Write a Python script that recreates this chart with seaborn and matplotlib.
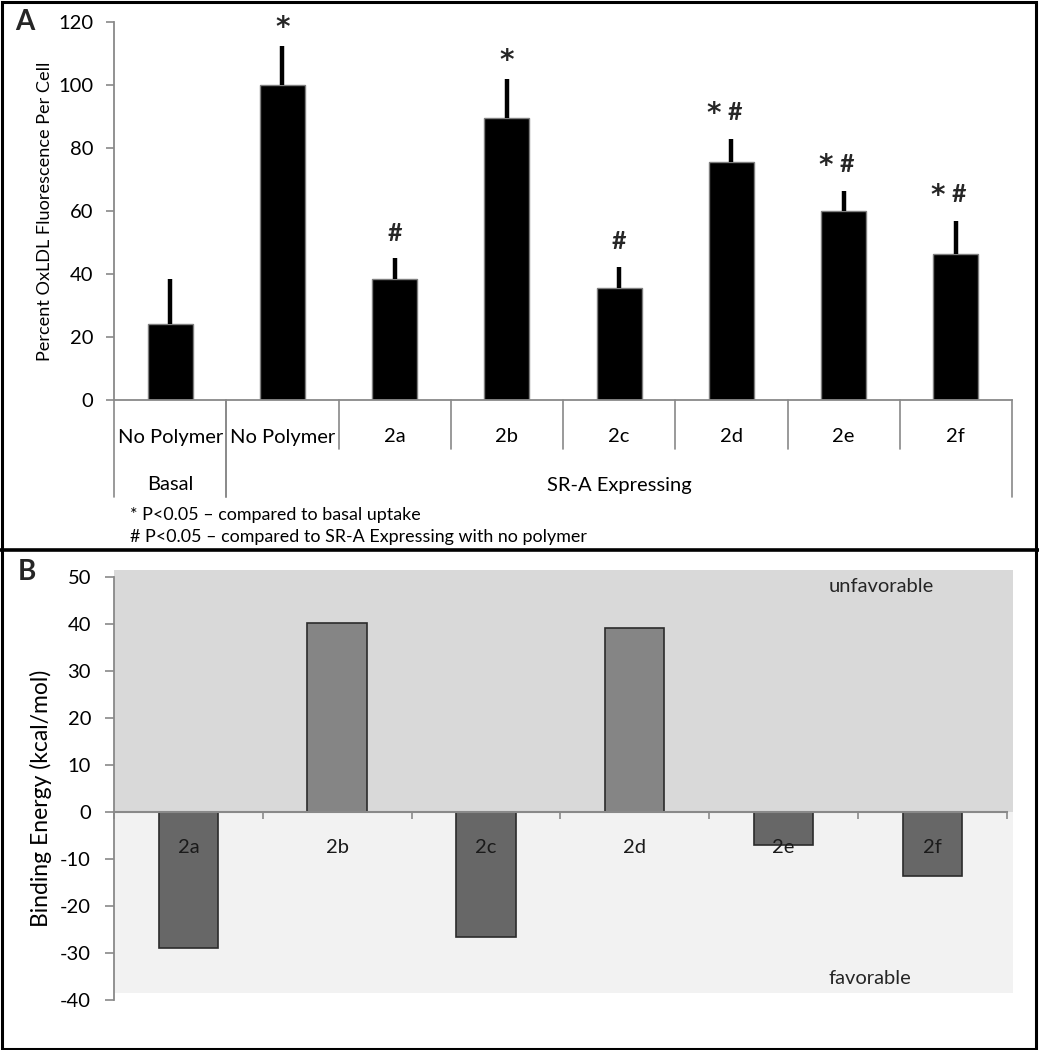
import matplotlib
matplotlib.use("Agg")
import matplotlib.pyplot as plt
import matplotlib.transforms as mtransforms
from matplotlib.lines import Line2D
from matplotlib.patches import Rectangle
import numpy as np
import pandas as pd
import seaborn as sns

# ---------------- data ----------------
a_groups = ["Basal", "SR-A Expressing", "SR-A Expressing", "SR-A Expressing",
            "SR-A Expressing", "SR-A Expressing", "SR-A Expressing", "SR-A Expressing"]
a_labels = ["No Polymer", "No Polymer", "2a", "2b", "2c", "2d", "2e", "2f"]
a_values = [24, 100, 38.5, 89.5, 35.5, 75.5, 60, 46.5]
a_errors = [14.5, 12.5, 6.5, 12.5, 6.8, 7.3, 6.2, 10.2]
a_marks = ["", "*", "#", "*", "#", "*#", "*#", "*#"]
a_yticks = [0, 20, 40, 60, 80, 100, 120]

b_labels = ["2a", "2b", "2c", "2d", "2e", "2f"]
b_values = [-29.0, 40.2, -26.6, 39.0, -7.1, -13.6]
b_yticks = [-40, -30, -20, -10, 0, 10, 20, 30, 40, 50]

footnotes = ["* P<0.05 \u2013 compared to basal uptake",
             "# P<0.05 \u2013 compared to SR-A Expressing with no polymer"]

# ---------------- style ----------------
sns.set_theme(style="white")
plt.rcParams["font.family"] = ["Lato", "DejaVu Sans"]

W, H = 1039, 1050
fig = plt.figure(figsize=(W / 100, H / 100), dpi=100)
PT = 0.72  # points per pixel

def fx(px):
    return px / W

def fy(py):
    return 1 - py / H

GRAY = "#898989"
TICKFS = 14.5
LABFS = 14.5
STAR = dict(fontsize=20, fontweight="bold", family=["DejaVu Sans"], ha="center", va="baseline")
HASH = dict(fontsize=18, fontweight="bold", ha="center", va="center")

# ---------------- panel A ----------------
axA = fig.add_axes([fx(114), fy(400), fx(1012) - fx(114), fy(22) - fy(400)])
dfA = pd.DataFrame({"key": [f"{g}|{l}|{i}" for i, (g, l) in enumerate(zip(a_groups, a_labels))],
                    "value": a_values})
sns.barplot(data=dfA, x="key", y="value", color="black", width=0.4,
            edgecolor="#7f7f7f", linewidth=1, saturation=1, ax=axA, errorbar=None)
xs = np.arange(len(a_values))
axA.errorbar(xs, a_values, yerr=[np.zeros(len(a_errors)), a_errors], fmt="none",
             ecolor="black", elinewidth=3.2, capsize=0)
axA.set_xlim(-0.5, len(a_values) - 0.5)
axA.set_ylim(0, 120)
axA.set_yticks(a_yticks)
axA.set_yticklabels([str(t) for t in a_yticks], fontsize=TICKFS, color="black")
axA.set_xticks([])
axA.set_xlabel("")
axA.set_ylabel("")
for s in ["top", "right"]:
    axA.spines[s].set_visible(False)
for s in ["left", "bottom"]:
    axA.spines[s].set_color(GRAY)
    axA.spines[s].set_linewidth(1.3)
axA.tick_params(axis="y", which="major", left=True, length=8 * PT, width=1.2,
                color=GRAY, pad=9, direction="out")

# significance marks
for i, (v, e, m) in enumerate(zip(a_values, a_errors, a_marks)):
    top = v + e
    if m == "*":
        axA.annotate("*", xy=(i, top), xytext=(0, 10 * PT), textcoords="offset points", **STAR)
    elif m == "#":
        axA.annotate("#", xy=(i, top), xytext=(0, 25 * PT), textcoords="offset points", **HASH)
    elif m == "*#":
        axA.annotate("*", xy=(i, top), xytext=(-18 * PT, 17 * PT), textcoords="offset points",
                     **STAR)
        axA.annotate("#", xy=(i, top), xytext=(3 * PT, 27 * PT), textcoords="offset points",
                     **HASH)

# category labels & separators
tA = mtransforms.blended_transform_factory(axA.transData, fig.transFigure)
for i, lab in enumerate(a_labels):
    axA.text(i, fy(437), lab, transform=tA, ha="center", va="center", fontsize=LABFS,
             color="black")
groups = []
for i, g in enumerate(a_groups):
    if groups and groups[-1][0] == g:
        groups[-1][2] = i
    else:
        groups.append([g, i, i])
for g, i0, i1 in groups:
    axA.text((i0 + i1) / 2, fy(485), g, transform=tA, ha="center", va="center",
             fontsize=LABFS, color="black")
    for xb in (i0 - 0.5, i1 + 0.5):
        axA.add_line(Line2D([xb, xb], [fy(400), fy(497)], transform=tA, color=GRAY,
                            lw=1.2, clip_on=False))
    for xb in np.arange(i0 + 0.5, i1, 1.0):
        axA.add_line(Line2D([xb, xb], [fy(400), fy(449)], transform=tA, color=GRAY,
                            lw=1.2, clip_on=False))

fig.text(fx(45), fy(211), "Percent OxLDL Fluorescence Per Cell", rotation=90,
         ha="center", va="center", fontsize=13.1, color="black")
fig.text(fx(130), fy(515), footnotes[0], ha="left", va="center", fontsize=12.9, color="black")
fig.text(fx(130), fy(537), footnotes[1], ha="left", va="center", fontsize=12.9, color="black")
fig.text(fx(25), fy(22), "A", ha="center", va="center", fontsize=20, fontweight="bold")

# ---------------- panel B ----------------
axB = fig.add_axes([fx(114), fy(1000), fx(1006.7) - fx(114), fy(576.7) - fy(1000)])
axB.set_xlim(-0.5, len(b_values) - 0.5)
axB.set_ylim(-40, 50)
xr = (1012.7 - 114) / (1006.7 - 114)
axB.axhspan(0, 51.4, xmin=0, xmax=xr, color="#d9d9d9", lw=0, clip_on=False, zorder=0)
axB.axhspan(-38.6, 0, xmin=0, xmax=xr, color="#f2f2f2", lw=0, clip_on=False, zorder=0)

dfB = pd.DataFrame({"label": b_labels, "value": b_values,
                    "sign": ["pos" if v > 0 else "neg" for v in b_values]})
sns.barplot(data=dfB, x="label", y="value", hue="sign",
            palette={"pos": "#858585", "neg": "#676767"}, width=0.4, dodge=False,
            edgecolor="#2b2b2b", linewidth=1.2, saturation=1, ax=axB, legend=False,
            errorbar=None)
axB.set_xlim(-0.5, len(b_values) - 0.5)
axB.set_ylim(-40, 50)
axB.set_yticks(b_yticks)
axB.set_yticklabels([str(t) for t in b_yticks], fontsize=TICKFS, color="black")
axB.set_xlabel("")
axB.set_ylabel("")
axB.set_xticks([])
axB.set_xticks(np.arange(-0.5, len(b_values), 1.0), minor=True)
axB.tick_params(axis="x", which="minor", bottom=True, length=7 * PT, width=1.2,
                color=GRAY, direction="out")
axB.tick_params(axis="y", which="major", left=True, length=9 * PT, width=1.2,
                color=GRAY, pad=10, direction="out")
for s in ["top", "right"]:
    axB.spines[s].set_visible(False)
axB.spines["bottom"].set_position(("data", 0))
axB.spines["bottom"].set_color(GRAY)
axB.spines["bottom"].set_linewidth(1.5)
axB.spines["left"].set_color(GRAY)
axB.spines["left"].set_linewidth(1.3)
axB.spines["bottom"].set_zorder(1.5)
for i, lab in enumerate(b_labels):
    axB.annotate(lab, xy=(i, 0), xytext=(0, -36 * PT), textcoords="offset points",
                 ha="center", va="center", fontsize=LABFS, color="#1a1a1a", zorder=5)

fig.text(fx(881), fy(587), "unfavorable", ha="center", va="center", fontsize=14.5)
fig.text(fx(870), fy(978), "favorable", ha="center", va="center", fontsize=14.5)

fig.text(fx(41), fy(798), "Binding Energy (kcal/mol)", rotation=90, ha="center",
         va="center", fontsize=16.5, color="black")
fig.text(fx(27), fy(572), "B", ha="center", va="center", fontsize=20, fontweight="bold")

# ---------------- panel frames ----------------
fig.patches.append(Rectangle((fx(1.5), fy(1048.5)), fx(1036) - fx(1.5), fy(1.5) - fy(1048.5),
                             transform=fig.transFigure, fill=False, ec="black", lw=2.2))
fig.lines.append(Line2D([0, 1], [fy(550), fy(550)], transform=fig.transFigure,
                        color="black", lw=2.6))

fig.savefig("out.png", dpi=100, facecolor="white")
